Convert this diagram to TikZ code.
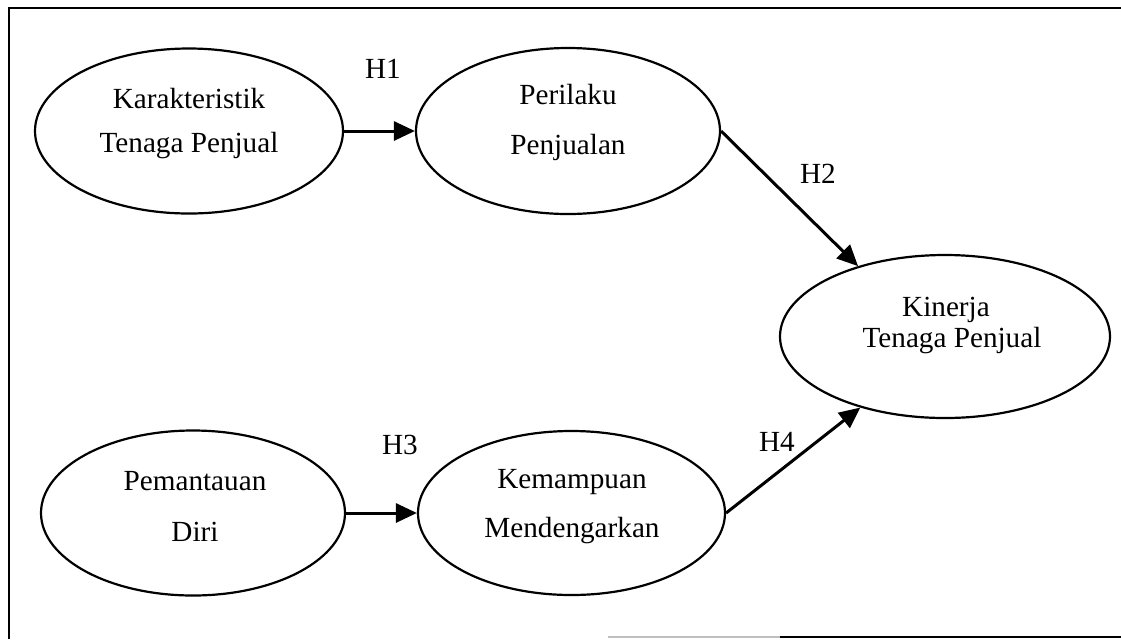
\documentclass[tikz,border=0pt]{standalone}
\usepackage{fontspec}
\setmainfont{Liberation Serif}
\usetikzlibrary{arrows.meta,shapes.geometric}
\begin{document}
\begin{tikzpicture}[x=0.5pt,y=-0.5pt,
  construct/.style={ellipse, draw, line width=1.1pt, inner sep=0pt},
  lbl/.style={font=\fontsize{14.6}{17}\selectfont, anchor=base, inner sep=0pt},
  hyp/.style={font=\fontsize{14.6}{17}\selectfont, inner sep=0pt},
  link/.style={line width=1.5pt, -{Triangle[length=10.5pt,width=9.5pt]}},
  frame/.style={line width=1.4pt}]
\useasboundingbox (0,0) rectangle (1121,639);

% outer frame (open on the right, partial at the bottom)
\draw[frame] (9,639) -- (9,8) -- (1121,8);
\draw[gray!50, line width=0.8pt] (608,637) -- (780,637);
\draw[frame] (780,637) -- (1121,637);

% constructs
\node[construct, minimum width=154pt,   minimum height=82.5pt] (K) at (189,131) {};
\node[construct, minimum width=152pt,   minimum height=83pt]   (P) at (568,131) {};
\node[construct, minimum width=152pt,   minimum height=82.5pt] (D) at (193,513) {};
\node[construct, minimum width=153.5pt, minimum height=82pt]   (M) at (571.5,513) {};
\node[construct, minimum width=165pt,   minimum height=81.5pt] (T) at (945,336.5) {};

% construct names
\node[lbl] (K1) at (189,108) {Karakteristik};
\node[lbl] (K2) at (189,152) {Tenaga Penjual};
\node[lbl] (P1) at (568,104) {Perilaku};
\node[lbl] (P2) at (568,154) {Penjualan};
\node[lbl] (D1) at (195,490) {Pemantauan};
\node[lbl] (D2) at (195,541) {Diri};
\node[lbl] (M1) at (572,488) {Kemampuan};
\node[lbl] (M2) at (572,537) {Mendengarkan};
\node[lbl] (T1) at (946,316) {Kinerja};
\node[lbl] (T2) at (952,347) {Tenaga Penjual};

% hypotheses
\node[hyp] (H1) at (383,69) {H1};
\node[hyp] (H2) at (818,174) {H2};
\node[hyp] (H3) at (400,445) {H3};
\node[hyp] (H4) at (777,442) {H4};

% paths
\draw[link] (K.east) -- (P.west);
\draw[link] (D.east) -- (M.west);
\draw[link] (P.east) -- (T.141);
\draw[link] (M.east) -- (T.220);
\end{tikzpicture}
\end{document}
